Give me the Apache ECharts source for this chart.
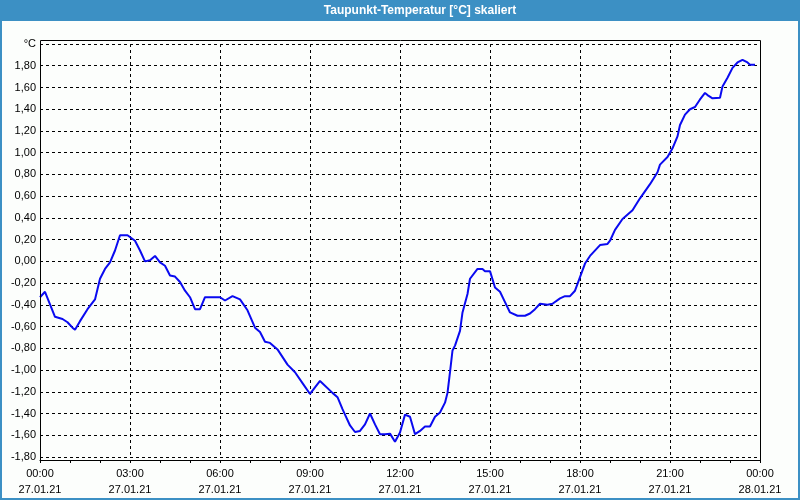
<!DOCTYPE html>
<html>
<head>
<meta charset="utf-8">
<script src="https://cdn.jsdelivr.net/npm/echarts@6/dist/echarts.min.js"></script>
<style>
html,body{margin:0;padding:0;background:#fcfefc;}
#c{width:800px;height:500px;}
</style>
</head>
<body>
<div id="c"></div>
<script>
const titleText = "Taupunkt-Temperatur [°C] skaliert";
const times = ["00:00","00:10","00:30","00:45","00:55","01:05","01:10","01:20","01:35","01:50",
"02:00","02:10","02:20","02:30","02:40","02:55","03:10","03:20","03:30","03:40","03:50",
"04:00","04:10","04:20","04:30","04:40","04:50","05:00","05:10","05:20","05:30","06:00",
"06:10","06:25","06:40","06:55","07:10","07:20","07:30","07:40","07:55","08:15","08:30",
"08:45","09:00","09:20","09:45","09:55","10:05","10:10","10:20","10:30","10:40","10:50",
"11:00","11:10","11:20","11:30","11:40","11:50","12:00","12:10","12:20","12:30","12:40",
"12:50","13:00","13:10","13:20","13:30","13:35","13:40","13:45","13:50","14:00","14:05",
"14:15","14:20","14:35","14:45","14:50","15:00","15:10","15:20","15:30","15:40","15:55",
"16:10","16:20","16:30","16:40","16:55","17:05","17:20","17:30","17:40","17:50","18:00",
"18:10","18:20","18:40","18:55","19:00","19:10","19:25","19:45","20:00","20:20","20:35",
"20:40","20:55","21:05","21:15","21:20","21:30","21:40","21:50","22:00","22:10","22:15",
"22:25","22:40","22:45","22:55","23:05","23:15","23:25","23:35","23:40","23:50"];
const values = [-0.33,-0.28,-0.51,-0.53,-0.56,-0.61,-0.63,-0.55,-0.44,-0.35,
-0.16,-0.07,-0.01,0.10,0.24,0.24,0.19,0.10,0.00,0.01,0.05,
-0.01,-0.04,-0.13,-0.14,-0.19,-0.27,-0.33,-0.44,-0.44,-0.33,-0.33,
-0.36,-0.32,-0.35,-0.45,-0.61,-0.65,-0.74,-0.75,-0.81,-0.95,-1.02,
-1.12,-1.22,-1.10,-1.21,-1.25,-1.36,-1.41,-1.51,-1.57,-1.56,-1.50,
-1.40,-1.50,-1.59,-1.59,-1.585,-1.66,-1.575,-1.41,-1.43,-1.59,-1.56,
-1.52,-1.52,-1.43,-1.39,-1.30,-1.21,-1.02,-0.82,-0.775,-0.64,-0.47,
-0.30,-0.16,-0.07,-0.07,-0.09,-0.09,-0.24,-0.28,-0.375,-0.47,-0.50,
-0.50,-0.48,-0.44,-0.39,-0.40,-0.39,-0.34,-0.32,-0.32,-0.27,-0.145,
-0.02,0.05,0.15,0.16,0.19,0.29,0.39,0.47,0.58,0.71,0.82,
0.89,0.96,1.04,1.15,1.255,1.35,1.40,1.42,1.49,1.55,1.53,
1.50,1.505,1.61,1.69,1.78,1.83,1.855,1.83,1.81,1.81];
const xTickTimes = ["00:00","03:00","06:00","09:00","12:00","15:00","18:00","21:00","00:00"];
const xTickDates = ["27.01.21","27.01.21","27.01.21","27.01.21","27.01.21","27.01.21","27.01.21","27.01.21","28.01.21"];
const yUnit = "°C";

function toHours(s){const p=s.split(':');return (+p[0])+(+p[1])/60;}
const data = times.map((t,i)=>[toHours(t),values[i]]);

const chart = echarts.init(document.getElementById('c'),null,{renderer:'canvas'});
const font = '"Liberation Sans", Arial, sans-serif';
chart.setOption({
  animation:false,
  backgroundColor:'#fcfefc',
  textStyle:{fontFamily:font},
  grid:{left:40,right:40,top:44,bottom:43,containLabel:false},
  xAxis:{
    type:'value',min:0,max:24,interval:3,offset:3,
    axisLine:{show:true,onZero:false,lineStyle:{color:'#000',width:1}},
    axisTick:{show:true,length:3,lineStyle:{color:'#000'}},
    minorTick:{show:true,splitNumber:3,length:3,lineStyle:{color:'#000'}},
    splitLine:{show:true,lineStyle:{color:'#000',type:[3,3],width:1}},
    axisLabel:{
      color:'#000',fontSize:11,fontFamily:font,lineHeight:16,margin:6,
      formatter:function(v){const i=Math.round(v/3);return xTickTimes[i]+"\n"+xTickDates[i];}
    }
  },
  yAxis:{
    type:'value',min:-1.8,max:2.0,interval:0.2,
    axisLine:{show:false},
    axisTick:{show:false},
    splitLine:{show:true,lineStyle:{color:'#000',type:[3,3],width:1}},
    axisLabel:{
      color:'#000',fontSize:11,fontFamily:font,margin:4,
      formatter:function(v){if(Math.abs(v-2)<1e-6)return yUnit;return v.toFixed(2).replace('.',',').replace('-0,00','0,00');}
    }
  },
  series:[{
    type:'line',data:data,showSymbol:false,smooth:false,
    lineStyle:{color:'#0a0af0',width:2},
    itemStyle:{color:'#0a0af0'},z:5
  }],
  graphic:[
    {type:'rect',shape:{x:0,y:0,width:800,height:21},style:{fill:'#3c90c4'},z:10},
    {type:'text',x:420,y:10.5,style:{text:titleText,fill:'#ffffff',font:'bold 12px '+font,textAlign:'center',textVerticalAlign:'middle'},z:11},
    {type:'rect',shape:{x:1,y:1,width:798,height:498},style:{fill:null,stroke:'#3c90c4',lineWidth:2},z:10},
    {type:'rect',shape:{x:40.5,y:40.5,width:720,height:420},style:{fill:null,stroke:'#000',lineWidth:1},z:6}
  ]
});
</script>
</body>
</html>
